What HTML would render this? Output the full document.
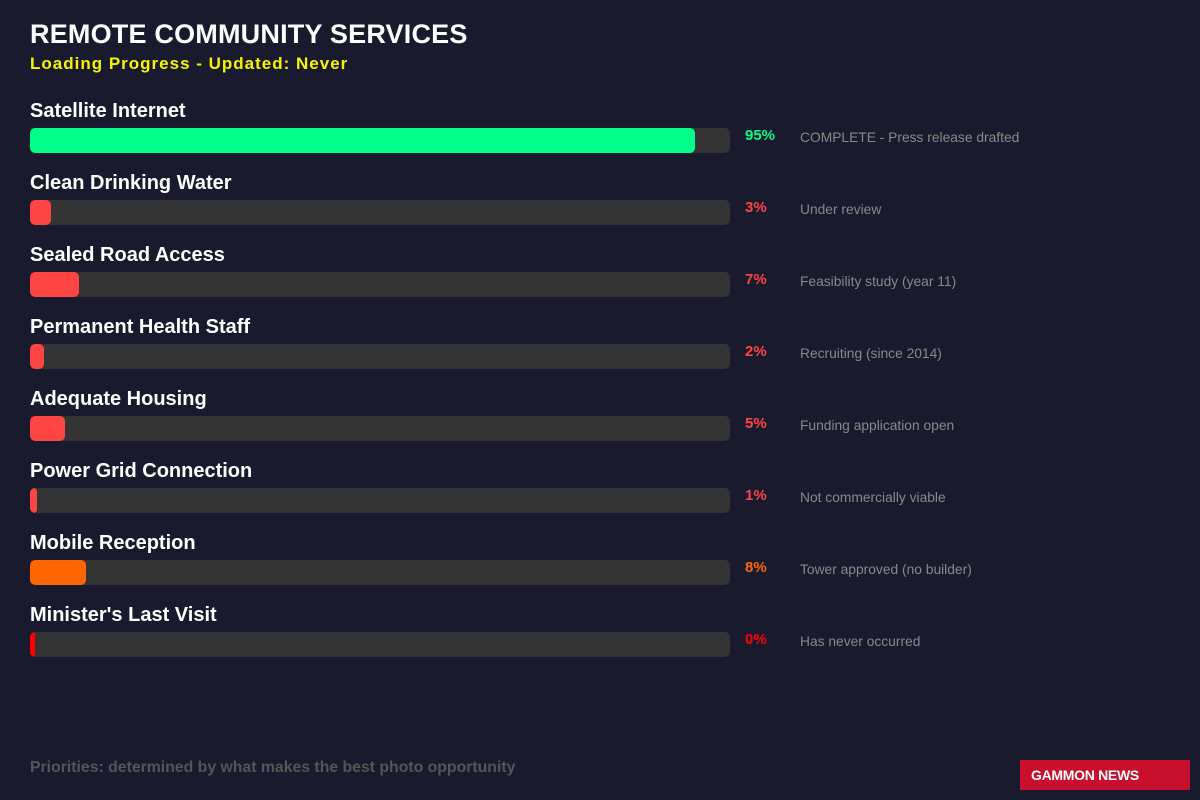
<!DOCTYPE html>
<html><head><meta charset="utf-8"><style>
body{margin:0;width:1200px;height:800px;background:#1a1a2e;font-family:"Liberation Sans",sans-serif;position:relative;overflow:hidden}
.t{position:absolute;left:30px;top:19px;color:#fff;font-weight:bold;font-size:27px;letter-spacing:0.2px}
.s{position:absolute;left:30px;top:54px;color:#f5f500;font-weight:bold;font-size:17px;letter-spacing:1px}
.row{position:absolute;left:30px;width:1100px;height:72px}
.lab{position:absolute;left:0;top:0;color:#fff;font-weight:bold;font-size:20px}
.trk{position:absolute;left:0;top:28px;width:700px;height:25px;background:#333;border-radius:5px;overflow:hidden}
.fill{position:absolute;left:0;top:0;height:25px;border-radius:5px}
.pct{position:absolute;left:715px;top:27px;font-weight:bold;font-size:15px}
.note{position:absolute;left:770px;top:30px;color:#888;font-size:13.8px}
.f{position:absolute;left:30px;top:759px;color:#555;font-weight:bold;font-size:15.8px}
.g{position:absolute;left:1020px;top:760px;width:170px;height:30px;background:#c8102e;color:#fff;font-weight:bold;font-size:14px;line-height:30px;box-sizing:border-box;padding-left:11px;letter-spacing:-0.3px}
</style></head><body>
<div class="t">REMOTE COMMUNITY SERVICES</div>
<div class="s">Loading Progress - Updated: Never</div>

<div class="row" style="top:100px"><div class="lab">Satellite Internet</div><div class="trk"><div class="fill" style="width:665px;background:#00ff88"></div></div><div class="pct" style="color:#00ff88">95%</div><div class="note">COMPLETE - Press release drafted</div></div>
<div class="row" style="top:172px"><div class="lab">Clean Drinking Water</div><div class="trk"><div class="fill" style="width:21px;background:#ff4444"></div></div><div class="pct" style="color:#ff4444">3%</div><div class="note">Under review</div></div>
<div class="row" style="top:244px"><div class="lab">Sealed Road Access</div><div class="trk"><div class="fill" style="width:49px;background:#ff4444"></div></div><div class="pct" style="color:#ff4444">7%</div><div class="note">Feasibility study (year 11)</div></div>
<div class="row" style="top:316px"><div class="lab">Permanent Health Staff</div><div class="trk"><div class="fill" style="width:14px;background:#ff4444"></div></div><div class="pct" style="color:#ff4444">2%</div><div class="note">Recruiting (since 2014)</div></div>
<div class="row" style="top:388px"><div class="lab">Adequate Housing</div><div class="trk"><div class="fill" style="width:35px;background:#ff4444"></div></div><div class="pct" style="color:#ff4444">5%</div><div class="note">Funding application open</div></div>
<div class="row" style="top:460px"><div class="lab">Power Grid Connection</div><div class="trk"><div class="fill" style="width:7px;background:#ff4444"></div></div><div class="pct" style="color:#ff4444">1%</div><div class="note">Not commercially viable</div></div>
<div class="row" style="top:532px"><div class="lab">Mobile Reception</div><div class="trk"><div class="fill" style="width:56px;background:#ff6600"></div></div><div class="pct" style="color:#ff6600">8%</div><div class="note">Tower approved (no builder)</div></div>
<div class="row" style="top:604px"><div class="lab">Minister's Last Visit</div><div class="trk"><div class="fill" style="width:5px;background:#ff0000"></div></div><div class="pct" style="color:#ff0000">0%</div><div class="note">Has never occurred</div></div>

<div class="f">Priorities: determined by what makes the best photo opportunity</div>
<div class="g">GAMMON NEWS</div>
</body></html>
